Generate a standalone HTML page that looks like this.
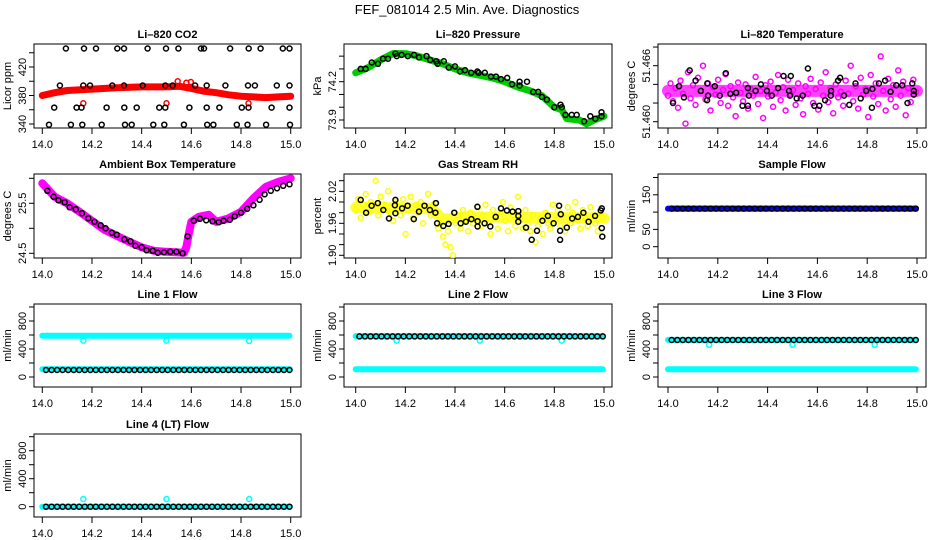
<!DOCTYPE html>
<html><head><meta charset="utf-8">
<style>
html,body{margin:0;padding:0;background:#fff;}
svg{display:block;font-family:"Liberation Sans",Arial,sans-serif;}
.tt{font-weight:bold;font-size:11px;}
.tk{font-size:11px;}
</style></head>
<body>
<svg id="chart" width="936" height="540" viewBox="0 0 936 540" xmlns="http://www.w3.org/2000/svg">
<rect x="0" y="0" width="936" height="540" fill="#fff"/>
<text x="467" y="14" text-anchor="middle" font-size="13">FEF_081014  2.5 Min. Ave. Diagnostics</text>
</svg>
<script>
// ---------- DATA ----------
const xTickLabels = ["14.0","14.2","14.4","14.6","14.8","15.0"];
const xTickValues = [14.0,14.2,14.4,14.6,14.8,15.0];

// CO2
const co2BandT = [14.0,14.05,14.1,14.2,14.3,14.4,14.5,14.55,14.6,14.65,14.7,14.75,14.8,14.85,14.9,14.95,15.0];
const co2BandV = [380,384,387,389,391,392,392,393,390,386,384,381,379,378,377,378,379];
const co2RedT = [14.165,14.5,14.83,14.545,14.58,14.598];
const co2RedV = [369,369,369,400,398,399];
const co2BlackT = [14.095,14.168,14.216,14.302,14.329,14.424,14.498,14.548,14.639,14.651,14.756,14.831,14.879,14.968,14.995,
 14.071,14.165,14.192,14.282,14.329,14.404,14.495,14.525,14.615,14.662,14.737,14.828,14.856,14.944,14.995,
 14.048,14.138,14.158,14.259,14.330,14.380,14.471,14.495,14.592,14.662,14.713,14.803,14.830,14.923,14.995,
 14.027,14.115,14.161,14.239,14.333,14.360,14.447,14.491,14.570,14.664,14.689,14.783,14.826,14.901,14.997];
const co2BlackV = [446,446,446,446,446,446,446,446,446,446,446,446,446,446,446,
 394,394,394,394,394,394,394,394,394,394,394,394,394,394,394,
 363,363,363,363,363,363,363,363,363,363,363,363,363,363,363,
 339,339,339,339,339,339,339,339,339,339,339,339,339,339,339];

// Pressure
const presBandT = [14.0,14.05,14.1,14.15,14.2,14.25,14.3,14.35,14.4,14.45,14.5,14.55,14.6,14.65,14.7,14.75,14.8,14.83,14.85,14.9,14.93,14.96,15.0];
const presBandV = [74.27,74.31,74.37,74.42,74.42,74.40,74.37,74.34,74.30,74.27,74.25,74.23,74.20,74.16,74.13,74.09,74.00,73.98,73.91,73.90,73.87,73.90,73.93];
const presBlackT = [14.02,14.04,14.065,14.09,14.11,14.13,14.16,14.165,14.185,14.21,14.235,14.255,14.285,14.30,14.325,14.33,14.355,14.375,14.40,14.42,14.44,14.465,14.49,14.495,14.52,14.545,14.565,14.585,14.61,14.63,14.66,14.66,14.69,14.715,14.735,14.75,14.77,14.80,14.825,14.83,14.845,14.87,14.89,14.92,14.945,14.965,14.99,14.99];
const presBlackV = [74.30,74.30,74.35,74.34,74.38,74.38,74.42,74.40,74.41,74.40,74.41,74.39,74.40,74.37,74.36,74.34,74.36,74.31,74.32,74.28,74.29,74.27,74.28,74.27,74.27,74.24,74.24,74.22,74.23,74.18,74.20,74.17,74.20,74.12,74.12,74.08,74.06,74.00,74.02,74.00,73.94,73.94,73.94,73.89,73.93,73.91,73.96,73.93];

// Li-820 temperature
const ltempBandT = [14.0,15.0];
const ltempBandV = [51.4633,51.4633];
const ltempMag = [51.4628,51.4641,51.4622,51.4636,51.4615,51.4644,51.4630,51.4598,51.4653,51.4625,
51.4639,51.4618,51.4647,51.4633,51.4660,51.4624,51.4641,51.4612,51.4637,51.4629,
51.4645,51.4620,51.4634,51.4651,51.4617,51.4638,51.4626,51.4606,51.4642,51.4631,
51.4622,51.4640,51.4614,51.4635,51.4628,51.4648,51.4619,51.4633,51.4604,51.4639,
51.4627,51.4643,51.4616,51.4631,51.4650,51.4623,51.4637,51.4612,51.4645,51.4629,
51.4634,51.4618,51.4641,51.4625,51.4608,51.4638,51.4630,51.4646,51.4620,51.4635,
51.4613,51.4642,51.4628,51.4653,51.4621,51.4636,51.4609,51.4640,51.4626,51.4632,
51.4617,51.4644,51.4630,51.4660,51.4622,51.4638,51.4614,51.4647,51.4629,51.4635,
51.4605,51.4650,51.4627,51.4641,51.4619,51.4670,51.4633,51.4612,51.4646,51.4624,
51.4639,51.4616,51.4655,51.4628,51.4643,51.4607,51.4636,51.4621,51.4645,51.4632];
const ltempBlackT = [14.020,14.044,14.064,14.087,14.111,14.132,14.157,14.158,14.161,14.188,14.208,14.232,14.250,14.274,14.299,14.321,14.321,14.325,14.352,14.373,14.397,14.417,14.442,14.464,14.486,14.490,14.493,14.517,14.541,14.562,14.588,14.608,14.631,14.654,14.655,14.691,14.683,14.707,14.728,14.753,14.774,14.796,14.821,14.819,14.847,14.872,14.894,14.917,14.941,14.962,14.981,14.987,14.987];
const ltempBlackV = [51.4620,51.4638,51.4626,51.4655,51.4644,51.4633,51.4623,51.4641,51.4628,51.4638,51.4628,51.4652,51.4630,51.4631,51.4617,51.4617,51.4636,51.4628,51.4633,51.4640,51.4633,51.4628,51.4636,51.4649,51.4633,51.4628,51.4649,51.4625,51.4628,51.4657,51.4617,51.4617,51.4623,51.4628,51.4633,51.4647,51.4644,51.4628,51.4618,51.4641,51.4625,51.4633,51.4635,51.4615,51.4641,51.4644,51.4632,51.4639,51.4639,51.4620,51.4641,51.4633,51.4629];

// Ambient box temperature
const ambBandT = [14.0,14.05,14.1,14.15,14.2,14.25,14.3,14.35,14.4,14.45,14.5,14.57,14.58,14.59,14.6,14.63,14.67,14.7,14.75,14.8,14.85,14.9,14.95,15.0];
const ambBandV = [25.9,25.63,25.5,25.33,25.15,24.97,24.85,24.73,24.62,24.55,24.53,24.51,24.63,24.9,25.13,25.23,25.27,25.13,25.2,25.33,25.6,25.83,25.93,26.0];
const ambBlackT = [14.02,14.045,14.065,14.09,14.11,14.135,14.16,14.185,14.21,14.235,14.255,14.28,14.30,14.33,14.355,14.375,14.40,14.42,14.445,14.465,14.49,14.515,14.54,14.565,14.585,14.61,14.635,14.66,14.685,14.71,14.73,14.755,14.775,14.80,14.825,14.85,14.875,14.895,14.92,14.945,14.97,14.995];
const ambBlackV = [25.75,25.63,25.56,25.52,25.42,25.38,25.30,25.2,25.13,25.06,25.0,24.91,24.87,24.78,24.74,24.65,24.62,24.56,24.55,24.51,24.52,24.53,24.53,24.5,24.84,25.15,25.19,25.16,25.14,25.12,25.15,25.17,25.24,25.31,25.39,25.46,25.57,25.68,25.75,25.8,25.85,25.88];

// Gas stream RH
const rhBandT = [14.0,14.3,14.35,14.45,15.0];
const rhBandV = [1.990,1.988,1.968,1.972,1.970];
const rhYellow = [1.985,2.005,1.970,1.995,2.015,1.980,2.000,1.990,2.040,1.975,
2.010,1.995,1.985,2.020,1.980,1.965,2.000,1.990,1.975,2.005,
1.940,1.985,2.010,1.970,1.995,1.980,2.000,1.960,1.990,2.015,
1.975,1.995,1.985,1.950,1.960,1.935,1.920,1.945,1.915,1.900,
1.960,1.975,1.950,1.985,1.965,1.945,1.980,1.960,1.970,1.990,
1.955,1.975,1.995,1.960,1.940,1.985,1.970,1.950,1.980,2.000,
1.965,1.945,1.990,1.975,1.955,2.010,1.970,1.950,1.985,1.960,
1.945,1.975,1.925,1.955,1.970,1.940,1.980,1.960,1.950,1.995,
1.965,1.985,1.955,1.975,1.945,1.990,1.960,1.980,2.000,1.965,
1.950,1.985,1.970,1.955,1.990,1.975,1.960,1.945,1.980,1.970];
const rhBlackT = [14.020,14.042,14.064,14.089,14.111,14.134,14.158,14.160,14.160,14.187,14.209,14.234,14.255,14.277,14.299,14.321,14.323,14.328,14.353,14.374,14.397,14.423,14.444,14.466,14.490,14.491,14.491,14.519,14.542,14.564,14.585,14.609,14.632,14.655,14.655,14.655,14.686,14.709,14.730,14.752,14.774,14.797,14.819,14.823,14.823,14.826,14.850,14.872,14.895,14.917,14.938,14.964,14.987,14.991,14.991,14.993];
const rhBlackV = [2.004,1.980,1.993,1.998,1.985,1.969,1.994,2.004,1.979,1.988,1.993,1.968,1.982,1.993,1.985,1.980,1.998,1.960,1.955,1.959,1.980,1.960,1.963,1.968,1.991,1.954,1.964,1.960,1.954,1.972,1.988,1.984,1.982,1.983,1.974,1.963,1.952,1.929,1.946,1.965,1.974,1.960,1.993,1.946,1.929,1.977,1.952,1.969,1.972,1.980,1.963,1.974,1.984,1.988,1.951,1.935];

// Flows (black circles at regular sample index)
const sampleBlue = [110,110];
const sampleBlack = [110,110,110,110,110,110,110,110,110,110,110,110,110,110,110,110,110,110,110,110,110,110,110,110,110,110,110,110,110,110,110,110,110,110,110,110,110,110,110,110,110,110,110,110,110];
const line1CyanHigh = [590,588];
const line1CyanLow = [110,110];
const line1DipT = [14.165,14.5,14.833];
const line1DipV = [520,520,515];
const line1Black = [100,100,100,100,100,100,100,100,100,100,100,100,100,100,100,100,100,100,100,100,100,100,100,100,100,100,100,100,100,100,100,100,100,100,100,100,100,100,100,100,100,100,100,100,100];
const line2CyanHigh = [585,585];
const line2CyanLow = [110,110];
const line2DipT = [14.165,14.5,14.83];
const line2DipV = [520,520,520];
const line2Black = [580,580,580,580,580,580,580,580,580,580,580,580,580,580,580,580,580,580,580,580,580,580,580,580,580,580,580,580,580,580,580,580,580,580,580,580,580,580,580,580,580,580,580,580,580];
const line3CyanHigh = [530,530];
const line3CyanLow = [110,110];
const line3DipT = [14.165,14.5,14.83];
const line3DipV = [460,460,460];
const line3Black = [528,528,528,528,528,528,528,528,528,528,528,528,528,528,528,528,528,528,528,528,528,528,528,528,528,528,528,528,528,528,528,528,528,528,528,528,528,528,528,528,528,528,528,528,528];
const line4CyanLow = [0,0];
const line4DipT = [14.165,14.5,14.833];
const line4DipV = [110,110,110];
const line4Black = [0,0,0,0,0,0,0,0,0,0,0,0,0,0,0,0,0,0,0,0,0,0,0,0,0,0,0,0,0,0,0,0,0,0,0,0,0,0,0,0,0,0,0,0,0];

// ---------- DRAWING ----------
const svg = document.getElementById('chart');
const NS = 'http://www.w3.org/2000/svg';
function mk(tag, attrs, parent){
  const e = document.createElementNS(NS, tag);
  for (const k in attrs) e.setAttribute(k, attrs[k]);
  (parent||svg).appendChild(e);
  return e;
}
const cols = [{L:34,R:301,x0:42.3,x1:290.7},{L:344,R:612,x0:355.7,x1:604},{L:658,R:926,x0:668,x1:917}];
const rows = [{T:44,B:128},{T:174,B:258},{T:304,B:387},{T:434,B:517}];

function makePanel(name, c, r, title, ylab, v0, p0, k, ticks, labels){
  const C = cols[c], R = rows[r];
  const g = mk('g', {});
  
  
  const xs = t => C.x0 + (t - 14) * (C.x1 - C.x0);
  const ys = v => p0 - (v - v0) * k;
  const P = {g, xs, ys, C, R, name};
  const tt = mk('text', {x:(C.L+C.R)/2, y:R.T-6, 'text-anchor':'middle', class:'tt'}, g);
  
  
  tt.textContent = title;
  const fr = mk('rect', {x:C.L, y:R.T, width:C.R-C.L, height:R.B-R.T, fill:'none', stroke:'#000', 'stroke-width':1}, g);
  
  
  const xa = mk('g', {}, g);
  
  
  mk('line', {x1:xs(14), x2:xs(15), y1:R.B, y2:R.B, stroke:'#000'}, xa);
  xTickValues.forEach((tv, i) => {
    mk('line', {x1:xs(tv), x2:xs(tv), y1:R.B, y2:R.B+6, stroke:'#000'}, xa);
    const tl = mk('text', {x:xs(tv), y:R.B+20, 'text-anchor':'middle', class:'tk'}, xa);
    
    
    tl.textContent = xTickLabels[i];
  });
  const ya = mk('g', {}, g);
  
  
  ticks.forEach(tv => {
    mk('line', {x1:C.L-5, x2:C.L, y1:ys(tv), y2:ys(tv), stroke:'#000'}, ya);
  });
  labels.forEach(lb => {
    const yy = ys(parseFloat(lb));
    const tl = mk('text', {x:C.L-8, y:yy, 'text-anchor':'middle', class:'tk', transform:'rotate(-90 '+(C.L-8)+' '+yy+')'}, ya);
    
    
    tl.textContent = lb;
  });
  const cy = (R.T+R.B)/2;
  const yl = mk('text', {x:C.L-23, y:cy, 'text-anchor':'middle', class:'tk', transform:'rotate(-90 '+(C.L-23)+' '+cy+')'}, g);
  
  
  yl.textContent = ylab;
  const cid = 'clip-' + name;
  const cp = mk('clipPath', {id:cid}, g);
  mk('rect', {x:C.L, y:R.T, width:C.R-C.L, height:R.B-R.T}, cp);
  P.plot = mk('g', {'clip-path':'url(#'+cid+')'}, g);
  return P;
}
function band(P, T, V, color, w, sname, op){
  const pts = T.map((t,i) => P.xs(t).toFixed(1)+','+P.ys(V[i]).toFixed(1)).join(' ');
  const pl = mk('polyline', {points:pts, fill:'none', stroke:color, 'stroke-width':w, 'stroke-linecap':'round', 'stroke-linejoin':'round', 'stroke-opacity':op||1}, P.plot);
  
  
}
function pts(P, T, V, color, sname){
  const gg = mk('g', {fill:'none', stroke:color, 'stroke-width':1.5}, P.plot);
  
  
  V.forEach((v,i) => {
    const c = mk('circle', {cx:P.xs(T[i]).toFixed(1), cy:P.ys(v).toFixed(1), r:2.5}, gg);
    
    
  });
}
function idxT(n, a, b){ return Array.from({length:n}, (_,i) => a + (b-a)*i/(n-1)); }
const endsT = [14.0, 14.995];

const range = (a,b,s) => { const r=[]; for(let v=a; v<=b+s/1e3; v+=s) r.push(+v.toFixed(4)); return r; };

let P = makePanel('co2', 0, 0, 'Li–820 CO2', 'Licor ppm', 340, 124, 0.7125, range(340,440,20), ['340','380','420']);
band(P, co2BandT, co2BandV, '#ff0000', 7, 'co2-red-band');
pts(P, co2RedT, co2RedV, '#ff0000', 'co2-red-points');
pts(P, co2BlackT, co2BlackV, '#000', 'co2-black-points');

P = makePanel('pressure', 1, 0, 'Li–820 Pressure', 'kPa', 73.9, 120, 127.7, range(73.9,74.4,0.1), ['73.9','74.2']);
band(P, presBandT, presBandV, '#00cc00', 7, 'pressure-green-band');
pts(P, presBlackT, presBlackV, '#000', 'pressure-black-points');

P = makePanel('li-temp', 2, 0, 'Li–820 Temperature', 'degrees C', 51.460, 121.7, 9333, range(51.460,51.468,0.002), ['51.460','51.466']);
band(P, ltempBandT, ltempBandV, '#ff00ff', 12, 'li-temp-band', 0.75);
pts(P, idxT(ltempMag.length, 14.0, 14.995), ltempMag, '#ff00ff', 'li-temp-magenta-points');
pts(P, ltempBlackT, ltempBlackV, '#000', 'li-temp-black-points');

P = makePanel('ambient-temp', 0, 1, 'Ambient Box Temperature', 'degrees C', 24.5, 253.3, 50, range(24.5,26,0.5), ['24.5','25.5']);
band(P, ambBandT, ambBandV, '#ff00ff', 8, 'ambient-magenta-band');
pts(P, ambBlackT, ambBlackV, '#000', 'ambient-black-points');

P = makePanel('gas-rh', 1, 1, 'Gas Stream RH', 'percent', 1.90, 255.3, 533, range(1.90,2.04,0.02), ['1.90','1.96','2.02']);
band(P, rhBandT, rhBandV, '#ffff00', 11, 'rh-yellow-band', 0.8);
pts(P, idxT(rhYellow.length, 14.0, 14.995), rhYellow, '#ffff00', 'rh-yellow-points');
pts(P, rhBlackT, rhBlackV, '#000', 'rh-black-points');

P = makePanel('sample-flow', 2, 1, 'Sample Flow', 'ml/min', 0, 246.7, 0.346, range(0,200,50), ['0','50','150']);
band(P, endsT, sampleBlue, '#0000ff', 6, 'sample-blue-band');
pts(P, idxT(sampleBlack.length, 14.015, 14.995), sampleBlack, '#000', 'sample-black-points');

P = makePanel('line1-flow', 0, 2, 'Line 1 Flow', 'ml/min', 0, 377, 0.07, range(0,1000,200), ['0','400','800']);
band(P, endsT, line1CyanHigh, '#00ffff', 6, 'line1-cyan-high');
band(P, endsT, line1CyanLow, '#00ffff', 6, 'line1-cyan-low');
pts(P, line1DipT, line1DipV, '#00ffff', 'line1-cyan-dips');
pts(P, idxT(line1Black.length, 14.015, 14.995), line1Black, '#000', 'line1-black-points');

P = makePanel('line2-flow', 1, 2, 'Line 2 Flow', 'ml/min', 0, 377, 0.07, range(0,1000,200), ['0','400','800']);
band(P, endsT, line2CyanHigh, '#00ffff', 6, 'line2-cyan-high');
band(P, endsT, line2CyanLow, '#00ffff', 6, 'line2-cyan-low');
pts(P, line2DipT, line2DipV, '#00ffff', 'line2-cyan-dips');
pts(P, idxT(line2Black.length, 14.015, 14.995), line2Black, '#000', 'line2-black-points');

P = makePanel('line3-flow', 2, 2, 'Line 3 Flow', 'ml/min', 0, 377, 0.07, range(0,1000,200), ['0','400','800']);
band(P, endsT, line3CyanHigh, '#00ffff', 6, 'line3-cyan-high');
band(P, endsT, line3CyanLow, '#00ffff', 6, 'line3-cyan-low');
pts(P, line3DipT, line3DipV, '#00ffff', 'line3-cyan-dips');
pts(P, idxT(line3Black.length, 14.015, 14.995), line3Black, '#000', 'line3-black-points');

P = makePanel('line4-flow', 0, 3, 'Line 4 (LT) Flow', 'ml/min', 0, 506.7, 0.07, range(0,1000,200), ['0','400','800']);
band(P, endsT, line4CyanLow, '#00ffff', 6, 'line4-cyan-low');
pts(P, line4DipT, line4DipV, '#00ffff', 'line4-cyan-outliers');
pts(P, idxT(line4Black.length, 14.015, 14.995), line4Black, '#000', 'line4-black-points');
</script>
</body></html>
